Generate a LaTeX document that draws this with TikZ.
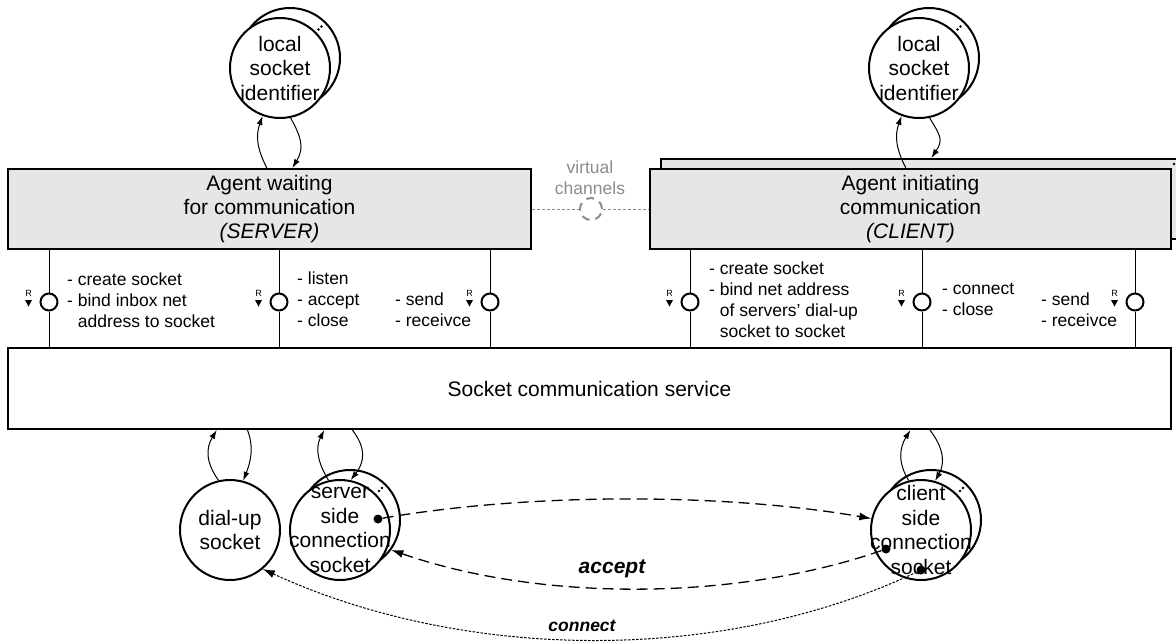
\documentclass[tikz,border=0pt]{standalone}
\usepackage{fontspec}
\setmainfont{Liberation Sans}
\usetikzlibrary{arrows.meta,calc}
\definecolor{agentfill}{HTML}{E6E6E6}
\definecolor{vgray}{HTML}{8C8C8C}
\begin{document}
\begin{tikzpicture}[x=1pt,y=-1pt,
  agent/.style={draw, line width=2pt, fill=agentfill, minimum height=80pt, inner sep=0pt,
    align=center, font=\fontsize{21}{24}\selectfont},
  svcbox/.style={draw, line width=2pt, fill=white, inner sep=0pt, font=\fontsize{21}{24}\selectfont},
  sockc/.style={circle, draw, line width=2pt, fill=white, minimum size=100pt, inner sep=0pt},
  socktxt/.style={align=center, inner sep=0pt, font=\fontsize{21}{24.5}\selectfont},
  iface/.style={circle, draw, line width=2pt, fill=white, minimum size=17pt, inner sep=0pt},
  lbl/.style={align=left, anchor=west, inner sep=0pt, font=\fontsize{17.5}{21}\selectfont},
  rmark/.style={inner sep=0pt, font=\fontsize{9}{9}\selectfont},
  vline/.style={line width=1pt},
  loopar/.style={line width=1pt, -{Latex[length=9pt,width=6pt]}},
  msga/.style={line width=1.3pt, dash pattern=on 11pt off 6pt, -{Latex[length=12pt,width=8pt]}},
  msgc/.style={line width=1pt, dash pattern=on 2.5pt off 1.5pt, -{Latex[length=12pt,width=8pt]}},
  dotn/.style={circle, fill=black, inner sep=0pt, minimum size=9pt},
  vch/.style={draw=vgray, line width=1pt, dash pattern=on 3pt off 2pt},
  vcirc/.style={circle, draw=vgray, line width=2pt, dash pattern=on 8pt off 6pt, fill=white, minimum size=22pt, inner sep=0pt},
  vtxt/.style={align=center, inner sep=0pt, text=vgray, font=\fontsize{17.5}{21}\selectfont},
  msglbl/.style={inner sep=0pt, font=\bfseries\itshape}
]
\useasboundingbox (0,0) rectangle (1176,641);

% agent boxes
\node[agent, minimum width=523pt] (srv) at (269.5,209) {Agent waiting\\for communication\\\textit{(SERVER)}};
\node[agent, minimum width=521pt] (clib) at (921.5,199) {};
\node[agent, minimum width=521pt] (cli) at (910.5,209) {Agent initiating\\communication\\\textit{(CLIENT)}};
\fill (1174,164) circle (1.3pt);

% service box
\node[svcbox, minimum width=1163pt, minimum height=81pt] (svc) at (589.5,388.5) {Socket communication service};

% local socket identifiers
\node[sockc] (lsi1b) at (290,58) {};
\node[sockc] (lsi1) at (280,68) {};
\node[socktxt] (lsi1t) at (lsi1) {local\\socket\\identifier};
\fill ([shift={(38.5,-38.5)}]lsi1.center) circle (1.3pt);
\fill ([shift={(41.5,-41.5)}]lsi1.center) circle (1.3pt);

\node[sockc] (lsi2b) at (929,58) {};
\node[sockc] (lsi2) at (919,68) {};
\node[socktxt] (lsi2t) at (lsi2) {local\\socket\\identifier};
\fill ([shift={(38.5,-38.5)}]lsi2.center) circle (1.3pt);
\fill ([shift={(41.5,-41.5)}]lsi2.center) circle (1.3pt);

% bottom sockets
\node[sockc] (du) at (230,530) {};
\node[socktxt] (dut) at (du) {dial-up\\socket};

\node[sockc] (ssb) at (350,520) {};
\node[sockc] (ss) at (340,530) {};
\node[socktxt] (sst) at (ss) {server\\side\\connection\\socket};
\fill ([shift={(39,-39)}]ss.center) circle (1.3pt);
\fill ([shift={(42,-42)}]ss.center) circle (1.3pt);

\node[sockc] (csb) at (931,520) {};
\node[sockc] (cs) at (921,530) {};
\node[socktxt] (cst) at (cs) {client\\side\\connection\\socket};
\fill ([shift={(39,-39)}]cs.center) circle (1.3pt);
\fill ([shift={(42,-42)}]cs.center) circle (1.3pt);

% virtual channels
\node[vtxt] (vt) at (590,177.5) {virtual\\channels};
\node[vcirc] (vc) at (591,209) {};
\draw[vch] (srv.east) -- (vc.west);
\draw[vch] (vc.east) -- (cli.west);

% interfaces
\node[iface] (i1) at (49,302) {};
\node[iface] (i2) at (279,302) {};
\node[iface] (i3) at (490,302) {};
\node[iface] (i4) at (690,302) {};
\node[iface] (i5) at (922,302) {};
\node[iface] (i6) at (1135,302) {};
\foreach \i/\b in {i1/srv,i2/srv,i3/srv,i4/cli,i5/cli,i6/cli}{
  \draw[vline] (\b.south -| \i) -- (\i);
  \draw[vline] (\i) -- (svc.north -| \i);
  \node[rmark] at ([shift={(-20.5,-8.5)}]\i.center) {R};
  \fill ([shift={(-24,-2)}]\i.center) -- ++(7,0) -- ++(-3.5,6.5) -- cycle;
}

\node[lbl] (t1) at (67,300) {- create socket\\- bind inbox net\\\hphantom{- }address to socket};
\node[lbl] (t2) at (297,299) {- listen\\- accept\\- close};
\node[lbl] (t3) at (395,309.5) {- send\\- receivce};
\node[lbl] (t4) at (709,299.5) {- create socket\\- bind net address\\\hphantom{- }of servers' dial-up\\\hphantom{- }socket to socket};
\node[lbl] (t5) at (942,299.5) {- connect\\- close};
\node[lbl] (t6) at (1041,309.5) {- send\\- receivce};

% self loops top
\draw[loopar] (srv.north -| lsi1.255) .. controls +(-10,-20) and +(-7,20) .. (lsi1.250);
\draw[loopar] (lsi1.282) .. controls +(11,20) and +(12,-20) .. (srv.north -| lsi1.284);
\draw[loopar] (cli.north -| lsi2.255) .. controls +(-10,-20) and +(-7,20) .. (lsi2.250);
\draw[loopar] (lsi2.282) .. controls +(11,18) and +(12,-18) .. (clib.north -| lsi2.284);

% self loops bottom
\draw[loopar] (du.103) .. controls +(-13,-18) and +(-11,18) .. (svc.south -| du.105);
\draw[loopar] (svc.south -| du.70) .. controls +(7,18) and +(7,-18) .. (du.75);
\draw[loopar] (ss.103) .. controls +(-11,-18) and +(-9,18) .. (svc.south -| ss.108);
\draw[loopar] (svc.south -| ss.76) .. controls +(14,18) and +(14,-18) .. (ss.78);
\draw[loopar] (cs.104) .. controls +(-11,-18) and +(-11,18) .. (svc.south -| cs.102);
\draw[loopar] (svc.south -| cs.80) .. controls +(14,18) and +(10,-18) .. (cs.74);

% message dots
\node[dotn] (sdot) at (378,519) {};
\node[dotn] (cdot1) at (886,549) {};
\node[dotn] (cdot2) at (921,570) {};

% messages
\draw[msga] (sdot) .. controls +(150,-26) and +(-150,-26) .. (cs.167);
\draw[msga] (cdot1) .. controls +(-150,52) and +(150,52) .. (ssb.-36);
\draw[msgc] (cdot2) .. controls +(-200,95) and +(200,92) .. (du.-50);

\node[msglbl, font=\bfseries\itshape\fontsize{21}{24}\selectfont] (acc) at (612,569) {accept};
\node[msglbl, font=\bfseries\itshape\fontsize{17.5}{21}\selectfont] (con) at (582,626) {connect};
\end{tikzpicture}
\end{document}
